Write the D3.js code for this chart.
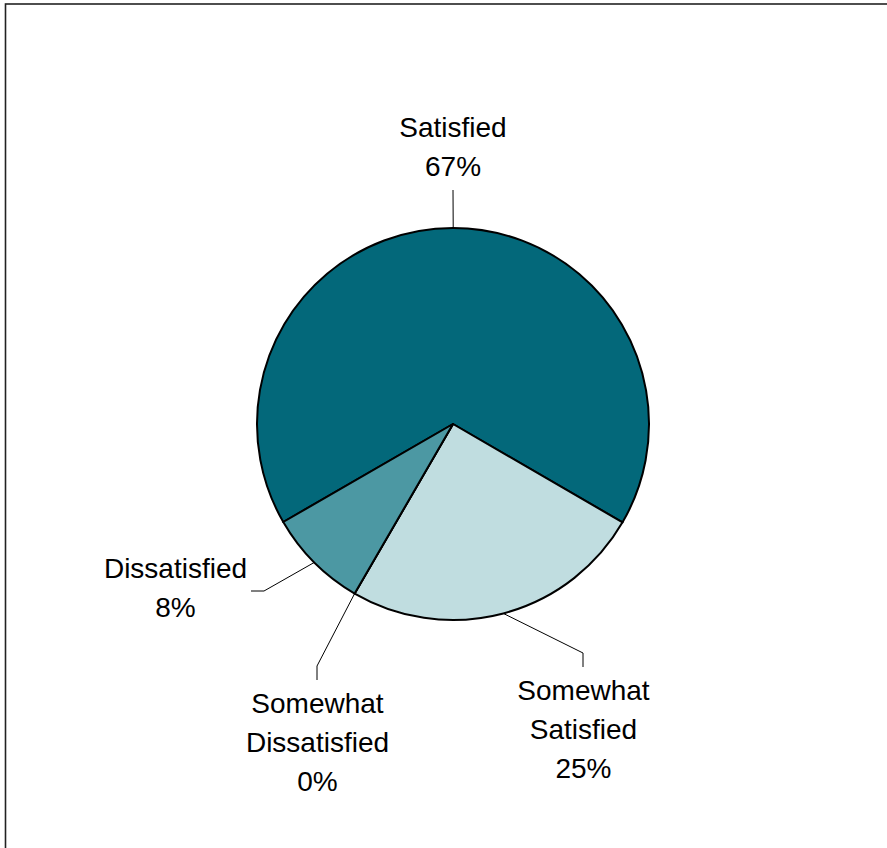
<!DOCTYPE html>
<html>
<head>
<meta charset="utf-8">
<script src="https://cdn.jsdelivr.net/npm/d3@7"></script>
<style>
  html, body { margin: 0; padding: 0; background: #fff; }
  svg { display: block; }
</style>
</head>
<body>
<div id="chart"></div>
<script>
// ---- data ----
const categories = ["Satisfied", "Somewhat Satisfied", "Somewhat Dissatisfied", "Dissatisfied"];
const values = [66.7, 25, 0, 8.3];
const labelLines = [["Satisfied"], ["Somewhat", "Satisfied"], ["Somewhat", "Dissatisfied"], ["Dissatisfied"]];
const colors = ["#03687a", "#c0dde0", "#4c98a3", "#4c98a3"];

// ---- layout ----
const W = 887, H = 848;
const cx = 453, cy = 424, R = 196;
const fontSize = 28, lineH = 39;
// label layout relative to centre: text centre x, first baseline y, leader elbow & end
const labelLayout = [
  { tx: 0,      ty: -287, elbow: [0, -234],     end: [0, -234] },
  { tx: 130.5,  ty: 276,  elbow: [130, 229],    end: [130, 243] },
  { tx: -135.5, ty: 289,  elbow: [-136, 242],   end: [-136, 256] },
  { tx: -277.5, ty: 154,  elbow: [-189, 167],   end: [-202, 167] }
];

const svg = d3.select("#chart").append("svg")
  .attr("width", W).attr("height", H);

// frame
svg.append("rect")
  .attr("x", 5.5).attr("y", 4)
  .attr("width", 1000).attr("height", 1000)
  .attr("fill", "none").attr("stroke", "#222").attr("stroke-width", 1.6);

const deg = Math.PI / 180;
const pie = d3.pie().sort(null).value(d => d)
  .startAngle(240 * deg).endAngle(600 * deg);
const arcs = pie(values);
const arc = d3.arc().innerRadius(0).outerRadius(R);
const edgeArc = d3.arc().innerRadius(R).outerRadius(R);

const g = svg.append("g").attr("transform", `translate(${cx},${cy})`);

g.selectAll("path.slice").data(arcs).enter().append("path")
  .attr("class", "slice")
  .attr("d", arc)
  .attr("fill", (d, i) => colors[i])
  .attr("stroke", "#000")
  .attr("stroke-width", 2)
  .attr("stroke-linejoin", "round");

// leader lines
g.selectAll("path.leader").data(arcs).enter().append("path")
  .attr("class", "leader")
  .attr("d", (d, i) => {
    const mid = (d.startAngle + d.endAngle) / 2;
    const p = [R * Math.sin(mid), -R * Math.cos(mid)];
    const L = labelLayout[i];
    return d3.line()([p, L.elbow, L.end]);
  })
  .attr("fill", "none")
  .attr("stroke", "#000")
  .attr("stroke-width", 1);

// labels
const lbl = g.selectAll("text.lbl").data(arcs).enter().append("text")
  .attr("class", "lbl")
  .attr("text-anchor", "middle")
  .attr("font-family", "Liberation Sans, Arial, sans-serif")
  .attr("font-size", fontSize)
  .attr("fill", "#000");

lbl.each(function(d, i) {
  const L = labelLayout[i];
  const lines = labelLines[i].concat([Math.round(values[i]) + "%"]);
  const t = d3.select(this);
  lines.forEach((s, k) => {
    t.append("tspan").attr("x", L.tx).attr("y", L.ty + k * lineH).text(s);
  });
});
</script>
</body>
</html>
